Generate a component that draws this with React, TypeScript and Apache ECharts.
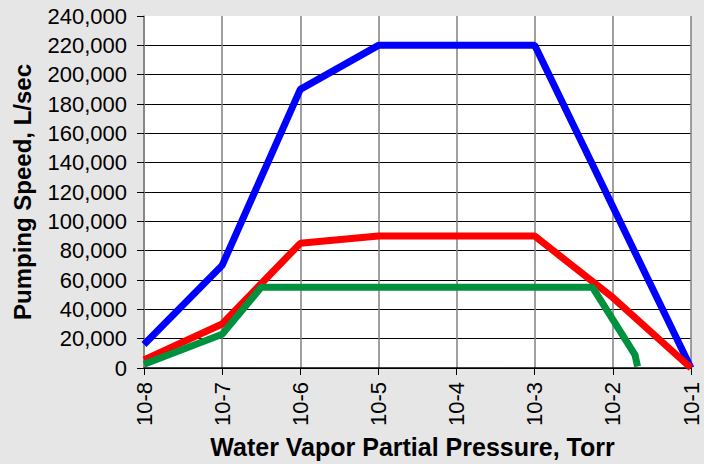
import React, { useEffect, useRef } from "react";
import * as echarts from "echarts";

const blueX = [1e-8, 1e-7, 1e-6, 1e-5, 1e-3, 1e-1];
const blueY = [16000, 70000, 190000, 220000, 220000, 0];
const redX = [1e-8, 1e-7, 1e-6, 1e-5, 1e-3, 1e-2, 1e-1];
const redY = [5500, 30000, 85000, 90000, 90000, 48000, 0];
const greenX = [1e-8, 1e-7, 3.16e-7, 5.5e-3, 1.92e-2, 2.07e-2];
const greenY = [2500, 23000, 55000, 55000, 9000, 1000];

const yTickValues = [0, 20000, 40000, 60000, 80000, 100000, 120000, 140000, 160000, 180000, 200000, 220000, 240000];
const xTitle = "Water Vapor Partial Pressure, Torr";
const yTitle = "Pumping Speed, L/sec";

const pairs = (xs: number[], ys: number[]) => xs.map((x, i) => [x, ys[i]]);

const FONT = "'Liberation Sans', Arial, sans-serif";

export default function App() {
  const ref = useRef<HTMLDivElement>(null);
  useEffect(() => {
    if (!ref.current) return;
    const chart = echarts.init(ref.current, undefined, { renderer: "svg" });
    chart.setOption({
      animation: false,
      backgroundColor: "#e6e6e6",
      textStyle: { fontFamily: FONT },
      grid: {
        left: 144,
        right: 13,
        top: 16,
        bottom: 96,
        show: true,
        backgroundColor: "#ffffff",
        borderWidth: 0,
        containLabel: false,
        outerBoundsMode: "none",
      },
      xAxis: {
        type: "log",
        logBase: 10,
        min: 1e-8,
        max: 1e-1,
        interval: 1,
        name: xTitle,
        nameLocation: "middle",
        nameGap: 66,
        nameTextStyle: { fontSize: 25, fontWeight: "bold", color: "#000", fontFamily: FONT, padding: [0, 10, 0, 0] },
        axisLine: { show: true, lineStyle: { color: "#000", width: 1.5 } },
        axisTick: { show: true, length: 7, lineStyle: { color: "#000", width: 1 } },
        axisLabel: {
          rotate: 90,
          margin: 14,
          fontSize: 22,
          color: "#000",
          fontFamily: FONT,
          formatter: (v: number) => "10" + Math.round(Math.log10(v)),
        },
        splitLine: { show: true, showMaxLine: false, lineStyle: { color: "#808080", width: 1.5 } },
      },
      yAxis: {
        type: "value",
        min: yTickValues[0],
        max: yTickValues[yTickValues.length - 1],
        interval: yTickValues[1] - yTickValues[0],
        name: yTitle,
        nameLocation: "middle",
        nameGap: 110,
        nameRotate: 90,
        nameTextStyle: { fontSize: 24, fontWeight: "bold", color: "#000", fontFamily: FONT },
        axisLine: { show: true, lineStyle: { color: "#808080", width: 1.5 } },
        axisTick: { show: true, length: 7, lineStyle: { color: "#000", width: 1 } },
        axisLabel: {
          margin: 17,
          fontSize: 22,
          color: "#000",
          fontFamily: FONT,
          formatter: (v: number) => v.toLocaleString("en-US"),
        },
        splitLine: { show: true, showMaxLine: false, lineStyle: { color: "#000", width: 1 } },
      },
      series: [
        {
          type: "line",
          data: pairs(blueX, blueY),
          showSymbol: false,
          lineStyle: { color: "#0000ff", width: 7 },
          itemStyle: { color: "#0000ff" },
        },
        {
          type: "line",
          data: pairs(redX, redY),
          showSymbol: false,
          lineStyle: { color: "#ff0000", width: 7 },
          itemStyle: { color: "#ff0000" },
        },
        {
          type: "line",
          data: pairs(greenX, greenY),
          showSymbol: false,
          lineStyle: { color: "#00913f", width: 7 },
          itemStyle: { color: "#00913f" },
        },
      ],
    });
    return () => chart.dispose();
  }, []);
  return <div ref={ref} style={{ position: "fixed", left: 0, top: 0, width: 704, height: 464 }} />;
}
